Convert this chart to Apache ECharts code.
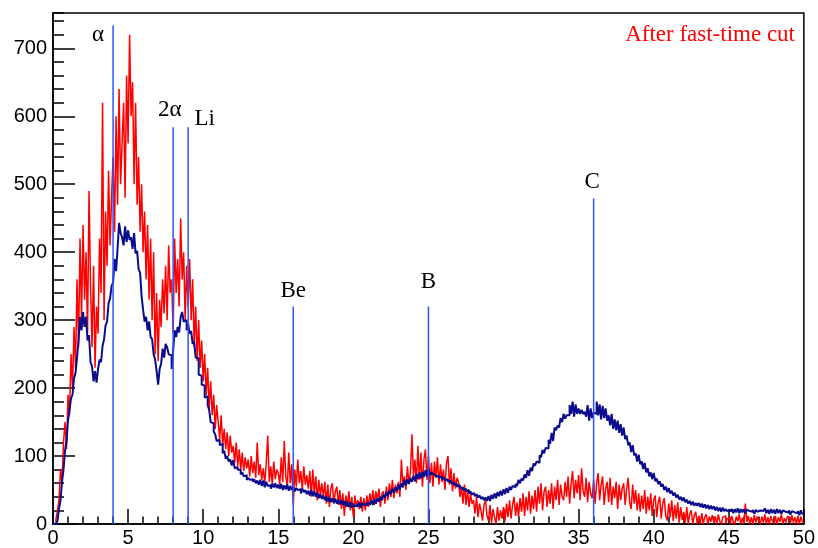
<!DOCTYPE html>
<html>
<head>
<meta charset="utf-8">
<script src="https://cdn.jsdelivr.net/npm/echarts@6/dist/echarts.min.js"></script>
<style>html,body{margin:0;padding:0;background:#fff;}#c{width:818px;height:548px;}</style>
</head>
<body>
<div id="c"></div>
<script>
const binWidth = 0.1;
const xMin = 0, xMax = 50;
const yMin = 0, yMax = 752;
const xTickStep = 5;
const yTickStep = 100;
const yMinorStep = 20;

const redCounts = [
0,0,8,20,35,80,60,120,150,110,
190,160,250,200,290,230,360,260,420,300,
440,330,400,280,490,350,260,380,230,320,
280,420,340,620,300,460,380,520,410,480,
540,430,600,470,640,500,560,620,480,660,
560,720,600,650,500,620,470,540,430,500,
400,460,360,440,330,420,300,400,250,340,
240,330,290,360,310,380,300,410,340,360,
280,420,340,390,320,450,360,400,300,380,
320,390,300,360,260,320,240,300,230,270,
210,250,190,230,170,210,160,190,140,175,
150,125,160,115,140,110,135,100,130,105,
115,90,120,85,110,80,105,78,98,82,
95,70,100,75,92,68,120,72,88,65,
82,60,90,130,62,85,58,92,66,80,
75,58,98,62,122,70,55,105,60,88,
28,80,55,95,60,78,50,85,58,72,
52,78,40,80,45,70,35,65,42,60,
40,62,30,58,25,52,60,30,48,55,
28,50,22,45,12,42,25,48,20,40,
10,42,25,35,22,40,18,38,20,42,
25,45,30,50,28,48,35,52,25,45,
48,30,55,35,60,40,65,38,58,45,
62,40,95,55,70,50,85,60,75,132,
70,95,60,115,65,105,55,95,110,65,
100,60,90,55,92,68,98,58,88,62,
80,50,90,100,58,82,48,75,52,68,
62,40,55,30,58,28,50,25,45,30,
35,15,40,10,30,20,5,28,35,12,
5,28,2,22,10,0,25,5,20,8,
25,4,30,10,35,8,28,40,12,32,
10,38,18,45,12,40,20,48,15,42,
22,50,18,55,30,60,20,48,55,25,
50,30,60,22,55,35,65,28,58,40,
35,62,40,70,30,60,78,38,65,45,
72,35,82,48,40,68,32,62,45,38,
65,30,60,75,35,58,70,28,52,62,
32,68,28,55,38,62,22,58,35,52,
60,28,52,68,32,22,58,30,50,20,
45,18,42,22,50,15,40,20,45,12,
35,42,10,32,40,8,30,38,12,5,
30,10,35,4,28,8,32,2,25,6,
18,2,25,0,15,20,0,12,18,0,
12,0,16,0,10,14,0,11,3,13,
2,11,0,14,4,0,10,12,0,8,
10,0,12,3,0,11,4,14,0,9,
0,30,3,12,0,10,0,13,2,11,
4,0,11,2,14,0,10,0,12,4,
0,12,0,10,3,14,0,9,2,11,
9,0,13,2,10,0,12,0,11,3
];

const blueCounts = [
0,0,0,5,22,35,62,80,108,122,
152,168,185,190,215,222,245,270,305,285,
312,290,305,270,278,238,232,210,225,208,
228,242,238,262,272,292,298,325,332,350,
355,390,372,405,443,428,422,410,438,415,
432,418,422,405,428,398,402,375,370,335,
315,298,305,285,298,275,272,250,242,225,
205,228,236,258,245,265,260,250,248,228,
255,285,275,290,282,305,312,298,300,285,
295,280,284,265,268,245,244,220,218,205,
204,186,188,175,168,150,148,136,132,122,
124,116,118,104,108,96,100,92,95,86,
94,82,84,80,80,73,76,70,72,65,
68,65,66,62,66,60,64,58,65,56,
64,54,62,56,57,52,59,54,60,53,
58,52,59,50,57,51,58,49,56,50,
54,48,53,50,51,45,52,47,50,44,
49,42,50,41,48,40,46,38,44,37,
42,35,41,33,39,32,38,31,37,30,
36,29,35,28,34,26,33,25,32,24,
30,26,28,25,32,24,31,28,30,27,
32,28,35,28,37,30,38,33,40,35,
43,39,47,41,49,44,52,46,54,49,
58,51,60,54,65,57,66,59,68,62,
71,63,74,66,76,67,77,69,79,70,
81,72,75,73,73,70,71,68,70,66,
69,64,66,62,64,60,61,57,59,55,
57,52,54,50,52,48,50,45,48,43,
46,41,44,39,42,37,40,35,39,34,
41,34,43,37,45,38,47,41,49,42,
51,44,53,46,55,50,56,54,59,56,
65,60,67,64,73,68,79,71,83,78,
89,86,92,90,101,98,109,104,112,111,
124,118,134,122,142,138,145,142,156,150,
162,155,160,160,175,162,180,158,176,162,
170,162,168,162,165,158,175,152,170,156,
164,162,180,160,176,154,174,156,170,152,
160,145,162,140,154,138,152,134,147,130,
142,125,130,116,120,106,116,101,104,92,
102,88,92,81,90,76,82,70,76,66,
75,63,67,59,63,55,59,50,55,47,
53,45,49,42,46,39,43,36,40,34,
39,32,36,30,34,28,33,27,31,27,
31,25,30,24,29,23,28,22,27,22,
26,20,25,19,24,18,24,19,22,19,
21,18,22,16,22,17,23,16,22,17,
22,16,21,19,20,18,21,15,21,18,
20,18,19,17,23,16,21,15,22,16,
21,15,22,16,21,15,20,18,19,17,
20,14,19,17,18,16,19,13,20,15
];

const markerNames = ['α', '2α', 'Li', 'Be', 'B', 'C'];
const markerX = [4, 8, 9, 16, 25, 36];
const markerTop = [734, 584, 584, 320, 320, 479];
const labelX = [2.99, 7.78, 10.1, 16.0, 25.0, 35.9];
const labelY = [719, 610, 596, 343, 356, 503];
const legendText = 'After fast-time cut';

function toSteps(arr) {
  const d = arr.map((v, i) => [+(i * binWidth).toFixed(3), v]);
  d.push([+(arr.length * binWidth).toFixed(3), arr[arr.length - 1]]);
  return d;
}

const chart = echarts.init(document.getElementById('c'), null, {renderer: 'canvas'});

const labelFont = {fontFamily: 'Liberation Sans', fontSize: 20, color: '#000'};

const series = [
  {
    type: 'line', name: 'red', step: 'end', symbol: 'none', data: toSteps(redCounts),
    lineStyle: {color: '#ff0000', width: 1.5}, z: 2
  },
  {
    type: 'line', name: 'blue', step: 'end', symbol: 'none', data: toSteps(blueCounts),
    lineStyle: {color: '#0b0b8e', width: 2}, z: 3
  }
];
markerX.forEach((x, i) => {
  series.push({
    type: 'line', symbol: 'none', data: [[x, 0], [x, markerTop[i]]],
    lineStyle: {color: '#2a55ff', width: 1.5}, z: 4
  });
});
series.push({
  type: 'scatter', symbolSize: 0, z: 5,
  itemStyle: {opacity: 1, color: '#000'},
  data: markerNames.map((n, i) => [labelX[i], labelY[i], n]),
  label: {
    show: true, position: 'inside', formatter: p => p.data[2],
    fontFamily: 'Liberation Serif', fontSize: 23, color: '#000', opacity: 1
  }
});

chart.setOption({
  animation: false,
  backgroundColor: '#fff',
  grid: {left: 53, right: 12, top: 13, bottom: 23, show: true, borderColor: '#000', borderWidth: 1.5, backgroundColor: 'transparent'},
  xAxis: {
    type: 'value', min: xMin, max: xMax, interval: xTickStep,
    axisLine: {show: true, lineStyle: {color: '#000', width: 1.5}},
    axisTick: {show: true, inside: true, length: 15, lineStyle: {color: '#000', width: 1.5}},
    minorTick: {show: true, splitNumber: 5, length: 7.5, lineStyle: {color: '#000', width: 1.5}},
    axisLabel: Object.assign({margin: 4}, labelFont),
    splitLine: {show: false}
  },
  yAxis: [
    {
      type: 'value', min: yMin, max: yMax, interval: yTickStep, position: 'left',
      axisLine: {show: true, lineStyle: {color: '#000', width: 1.5}},
      axisTick: {show: true, inside: true, length: 22, lineStyle: {color: '#000', width: 1.5}},
      axisLabel: Object.assign({margin: 6, showMaxLabel: false}, labelFont),
      splitLine: {show: false}
    },
    {
      type: 'value', min: yMin, max: yMax, interval: yMinorStep, position: 'left', offset: 0,
      axisLine: {show: false},
      axisTick: {show: true, inside: true, length: 11, lineStyle: {color: '#000', width: 1.5}},
      axisLabel: {show: false},
      splitLine: {show: false}
    }
  ],
  graphic: [{
    type: 'text', right: 23, top: 23,
    style: {text: legendText, fill: '#ff0000', font: '23px "Liberation Serif"'}
  }],
  series: series
});
</script>
</body>
</html>
